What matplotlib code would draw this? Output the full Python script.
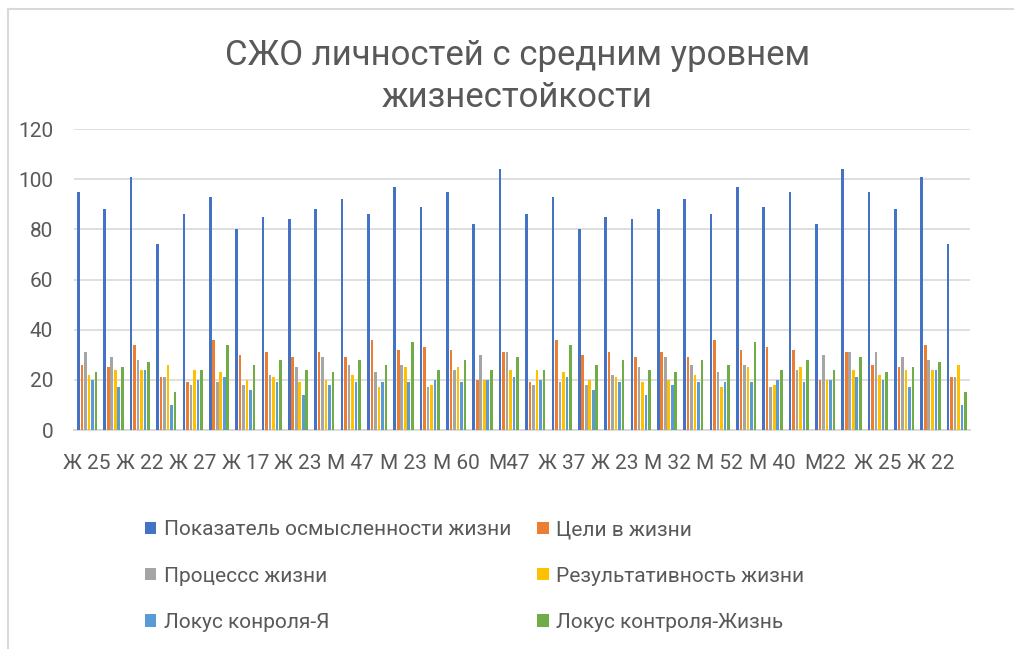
import numpy as np
import matplotlib
matplotlib.use("Agg")
import matplotlib.pyplot as plt
from matplotlib.lines import Line2D

plt.rcParams['font.family'] = ['Roboto', 'DejaVu Sans']

# ── Data ─────────────────────────────────────────────────
series_names = [
    'Показатель осмысленности жизни',
    'Цели в жизни',
    'Процессс жизни',
    'Результативность жизни',
    'Локус конроля-Я',
    'Локус контроля-Жизнь',
]
colors = ['#4472C4', '#ED7D31', '#A5A5A5', '#FFC000', '#5B9BD5', '#70AD47']

meaning = [95, 88, 101, 74, 86, 93, 80, 85, 84, 88, 92, 86, 97, 89, 95, 82, 104,
           86, 93, 80, 85, 84, 88, 92, 86, 97, 89, 95, 82, 104, 95, 88, 101, 74]
goals = [26, 25, 34, 21, 19, 36, 30, 31, 29, 31, 29, 36, 32, 33, 32, 20, 31,
         19, 36, 30, 31, 29, 31, 29, 36, 32, 33, 32, 20, 31, 26, 25, 34, 21]
process = [31, 29, 28, 21, 18, 19, 18, 22, 25, 29, 26, 23, 26, 17, 24, 30, 31,
           18, 19, 18, 22, 25, 29, 26, 23, 26, 17, 24, 30, 31, 31, 29, 28, 21]
result = [22, 24, 24, 26, 24, 23, 20, 21, 19, 20, 22, 17, 25, 18, 25, 20, 24,
          24, 23, 20, 21, 19, 20, 22, 17, 25, 18, 25, 20, 24, 22, 24, 24, 26]
locus_self = [20, 17, 24, 10, 20, 21, 16, 19, 14, 18, 19, 19, 19, 20, 19, 20, 21,
              20, 21, 16, 19, 14, 18, 19, 19, 19, 20, 19, 20, 21, 20, 17, 24, 10]
locus_life = [23, 25, 27, 15, 24, 34, 26, 28, 24, 23, 28, 26, 35, 24, 28, 24, 29,
              24, 34, 26, 28, 24, 23, 28, 26, 35, 24, 28, 24, 29, 23, 25, 27, 15]

# only every second category label is shown on the axis
shown_labels = ['Ж 25', 'Ж 22', 'Ж 27', 'Ж 17', 'Ж 23', 'М 47', 'М 23', 'М 60', 'М47',
                'Ж 37', 'Ж 23', 'М 32', 'М 52', 'М 40', 'М22', 'Ж 25', 'Ж 22']

all_series = [meaning, goals, process, result, locus_self, locus_life]

# ── Figure ───────────────────────────────────────────────
fig = plt.figure(figsize=(10.14, 6.49), dpi=100)
ax = fig.add_axes([0.073, 0.3374, 0.8837, 0.4638])

n = len(meaning)
x = np.arange(n)
pitch = 0.133
width = 0.10
bars = []
for i, (vals, col) in enumerate(zip(all_series, colors)):
    b = ax.bar(x + (i - 2.5) * pitch, vals, width=width, color=col, zorder=3)
    bars.append(b)

ax.set_xlim(-0.5, n - 0.5)
ax.set_ylim(0, 120)
ax.set_yticks(range(0, 121, 20))
ax.yaxis.grid(True, color='#D9D9D9', linewidth=1.2, zorder=0)
ax.set_axisbelow(True)

ax.set_xticks(x[::2])
ax.set_xticklabels(shown_labels)
ax.tick_params(axis='x', length=0, labelsize=15, colors='#595959', pad=17)
ax.tick_params(axis='y', length=0, labelsize=15, colors='#595959', pad=15)

for s in ['top', 'right', 'left']:
    ax.spines[s].set_visible(False)
ax.spines['bottom'].set_color('#D9D9D9')
ax.spines['bottom'].set_linewidth(1.4)

# title
fig.text(0.51, 0.882, 'СЖО личностей с средним уровнем\nжизнестойкости',
         ha='center', va='center', fontsize=25, color='#595959',
         fontweight='normal', linespacing=1.32)

# legend, row-wise order like the original
order = [0, 2, 4, 1, 3, 5]
leg = fig.legend([bars[k] for k in order], [series_names[k] for k in order],
                 ncol=2, loc='upper left', bbox_to_anchor=(0.143, 0.198),
                 frameon=False, fontsize=15, handlelength=0.55, handleheight=0.55,
                 handletextpad=0.35, columnspacing=1.25, labelspacing=1.3,
                 borderaxespad=0, borderpad=0)
for t in leg.get_texts():
    t.set_color('#595959')

# chart frame (left and top edges visible)
fig.add_artist(Line2D([7.5 / 1014, 7.5 / 1014], [0, 1 - 9 / 649],
                      transform=fig.transFigure, color='#D9D9D9', linewidth=1.5))
fig.add_artist(Line2D([7.5 / 1014, 1], [1 - 9 / 649, 1 - 9 / 649],
                      transform=fig.transFigure, color='#D9D9D9', linewidth=1.5))

fig.savefig('out.png', dpi=100)
